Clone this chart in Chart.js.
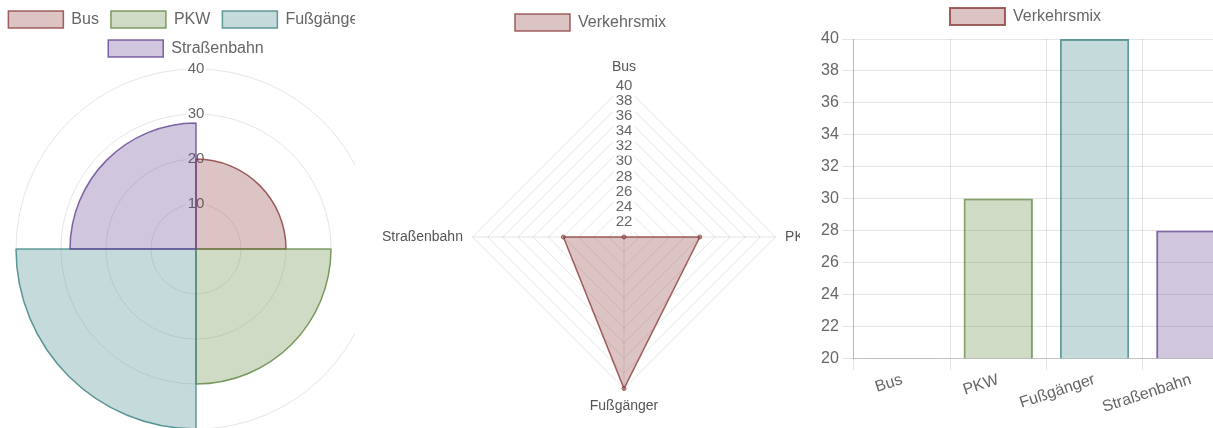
<!DOCTYPE html>
<html>
<head>
<meta charset="utf-8">
<script src="https://cdn.jsdelivr.net/npm/chart.js@4/dist/chart.umd.min.js"></script>
<style>
  html, body { margin: 0; padding: 0; background: #fff; }
  body { width: 1213px; height: 428px; position: relative; overflow: hidden; }
  .wrap { position: absolute; top: 0; height: 428px; overflow: hidden; }
  .wrap canvas { position: absolute; }
</style>
</head>
<body>
<div class="wrap" style="left:0;width:355px;"><canvas id="c1" width="392" height="440" style="left:0;top:-1px;"></canvas></div>
<div class="wrap" style="left:355px;width:445px;"><canvas id="c2" width="485" height="433" style="left:10px;top:2px;"></canvas></div>
<div class="wrap" style="left:800px;width:413px;"><canvas id="c3" width="421" height="421" style="left:18px;top:-4px;"></canvas></div>
<script>
// ---- data ----
const categories = ['Bus', 'PKW', 'Fußgänger', 'Straßenbahn'];
const values = [20, 30, 40, 28];
const datasetLabel = 'Verkehrsmix';
const polarRange = [0, 40, 10];   // min, max, step
const radarRange = [20, 40, 2];
const barRange = [20, 40, 2];

// ---- styles ----
const fills = ['rgba(140,60,60,0.3)', 'rgba(98,135,65,0.3)', 'rgba(62,132,132,0.3)', 'rgba(98,65,145,0.3)'];
const borders = ['rgba(140,60,60,0.8)', 'rgba(98,135,65,0.8)', 'rgba(62,132,132,0.8)', 'rgba(98,65,145,0.8)'];
const gridColor = 'rgba(0,0,0,0.1)';

Chart.defaults.font.family = "'Liberation Sans', Arial, Helvetica, sans-serif";
Chart.defaults.color = '#666';

const legendTweak = {
  id: 'legendTweak',
  beforeLayout(chart, args, opts) {
    const lg = chart.legend;
    if (lg && !lg.__tw) {
      const fit = lg.fit;
      lg.fit = function () { fit.call(this); this.height += (opts.dh || 0); };
      lg.__tw = true;
    }
  },
  afterLayout(chart, args, opts) {
    const lg = chart.legend;
    if (lg) { lg.left += (opts.dx || 0); lg.right += (opts.dx || 0); }
  }
};

const legendLabels = { boxWidth: 55, boxHeight: 17, padding: 12, font: { size: 16 }, color: '#666' };

new Chart(document.getElementById('c1'), {
  type: 'polarArea',
  data: {
    labels: categories,
    datasets: [{ label: datasetLabel, data: values, backgroundColor: fills, borderColor: borders, borderWidth: 1.5 }]
  },
  options: {
    responsive: false, animation: false, devicePixelRatio: 1,
    plugins: {
      legend: { labels: legendLabels },
      tooltip: { enabled: false },
      legendTweak: { dx: -10, dh: -7 }
    },
    scales: {
      r: {
        min: polarRange[0], max: polarRange[1],
        ticks: { stepSize: polarRange[2], font: { size: 15 }, color: '#666', backdropColor: '#fff' },
        grid: { color: gridColor },
        angleLines: { display: false },
        pointLabels: { display: false }
      }
    }
  },
  plugins: [legendTweak]
});

new Chart(document.getElementById('c2'), {
  type: 'radar',
  data: {
    labels: categories,
    datasets: [{ label: datasetLabel, data: values, backgroundColor: fills[0], borderColor: borders[0], borderWidth: 1.5,
      pointRadius: 2, pointBackgroundColor: fills[0], pointBorderColor: borders[0], pointBorderWidth: 1 }]
  },
  options: {
    responsive: false, animation: false, devicePixelRatio: 1,
    plugins: {
      legend: { labels: legendLabels },
      tooltip: { enabled: false },
      legendTweak: { dx: -17, dh: 0 }
    },
    scales: {
      r: {
        min: radarRange[0], max: radarRange[1],
        ticks: { stepSize: radarRange[2], font: { size: 15 }, color: '#666', backdropColor: '#fff' },
        grid: { color: gridColor },
        angleLines: { color: gridColor },
        pointLabels: { font: { size: 14 }, color: '#555', padding: 0 }
      }
    }
  },
  plugins: [legendTweak]
});

new Chart(document.getElementById('c3'), {
  type: 'bar',
  data: {
    labels: categories,
    datasets: [{ label: datasetLabel, data: values, backgroundColor: fills, borderColor: borders, borderWidth: 2,
      borderSkipped: (ctx) => (ctx.raw <= barRange[0]) ? true : 'start' }]
  },
  options: {
    responsive: false, animation: false, devicePixelRatio: 1,
    plugins: {
      legend: { labels: legendLabels },
      tooltip: { enabled: false },
      legendTweak: { dx: -3, dh: 4 }
    },
    scales: {
      x: {
        grid: { color: gridColor, tickLength: 12, offset: true },
        border: { color: 'rgba(0,0,0,0.15)' },
        ticks: { font: { size: 16 }, color: '#666', minRotation: 18, maxRotation: 18, padding: 0 }
      },
      y: {
        min: barRange[0], max: barRange[1],
        grid: { color: gridColor, tickLength: 12 },
        border: { color: 'rgba(0,0,0,0.2)' },
        ticks: { stepSize: barRange[2], font: { size: 16 }, color: '#666', padding: 3 }
      }
    }
  },
  plugins: [legendTweak]
});
</script>
</body>
</html>
